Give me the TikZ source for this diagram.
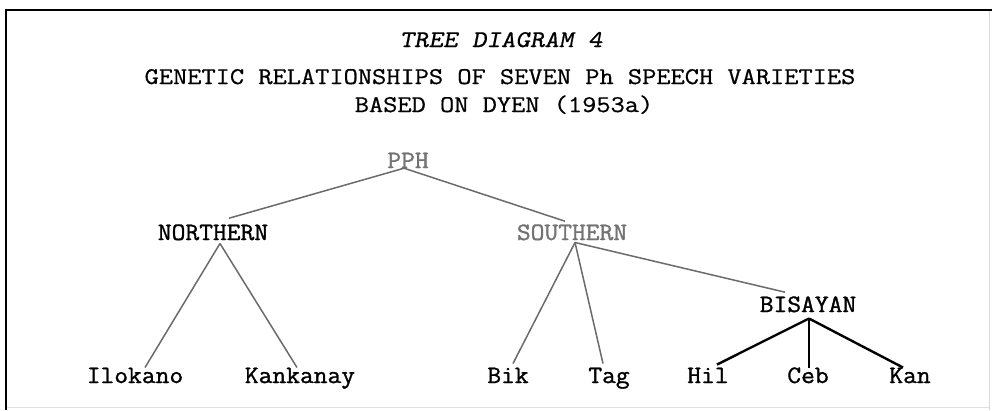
\documentclass[tikz,border=0pt]{standalone}
\usepackage{fontspec}
\setmonofont{Latin Modern Mono}
\newfontfamily\treefont[FakeBold=1.2]{Latin Modern Mono}
\newfontfamily\titlefont[FakeBold=0.6]{Latin Modern Mono}
\newfontfamily\titleitfont[FakeBold=0.6]{Latin Modern Mono Slanted}
\begin{document}
\begin{tikzpicture}[x=1pt,y=-1pt,
  lbl/.style={inner sep=0pt,anchor=base,font=\treefont\fontsize{25}{25}\selectfont,xscale=1.07},
  ttl/.style={inner sep=0pt,anchor=base,font=\titlefont\fontsize{24}{24}\selectfont,xscale=1.15},
  faded/.style={text=black!55},
  grayline/.style={draw=black!58,line width=1.5pt},
  blackline/.style={draw=black,line width=2.4pt},
  thinline/.style={draw=black,line width=1.3pt}]
\useasboundingbox (0,0) rectangle (992,410);
\fill[white] (0,0) rectangle (992,410);
% frame
\draw[black!15,line width=1pt] (989,10) -- (989,410);
\draw[black!12,line width=1pt] (6,407) -- (989,407);
\draw[black,line width=2pt] (5,10) -- (992,10);
\draw[black,line width=2.6pt] (6,9) -- (6,410);
% titles
\node[ttl,font=\titleitfont\fontsize{24}{24}\selectfont] (t1) at (501,47) {TREE DIAGRAM 4};
\node[ttl] (t2) at (500,84) {GENETIC RELATIONSHIPS OF SEVEN Ph SPEECH VARIETIES};
\node[ttl] (t3) at (504,112) {BASED ON DYEN (1953a)};
% tree nodes
\node[lbl,faded] (pph) at (408,168) {PPH};
\node[lbl] (nor) at (213,240) {NORTHERN};
\node[lbl,faded] (sou) at (572,240) {SOUTHERN};
\node[lbl] (bis) at (808,312) {BISAYAN};
\node[lbl] (ilo) at (135,383) {Ilokano};
\node[lbl] (kky) at (300,383) {Kankanay};
\node[lbl] (bik) at (508,383) {Bik};
\node[lbl] (tag) at (609,383) {Tag};
\node[lbl] (hil) at (708,383) {Hil};
\node[lbl] (ceb) at (808,383) {Ceb};
\node[lbl] (kan) at (910,383) {Kan};
% connectors
\draw[grayline] ([xshift=-4pt]pph.south) -- ([xshift=16pt,yshift=6pt]nor.north);
\draw[grayline] ([xshift=-4pt]pph.south) -- ([xshift=-7pt,yshift=3pt]sou.north);
\draw[grayline] ([xshift=7pt,yshift=-3pt]nor.south) -- ([xshift=10pt]ilo.north);
\draw[grayline] ([xshift=7pt,yshift=-3pt]nor.south) -- ([xshift=-3pt]kky.north);
\draw[grayline] ([xshift=3pt,yshift=-2pt]sou.south) -- ([xshift=5pt,yshift=4pt]bik.north);
\draw[grayline] ([xshift=3pt,yshift=-2pt]sou.south) -- ([xshift=-6pt,yshift=4pt]tag.north);
\draw[grayline] ([xshift=3pt,yshift=-2pt]sou.south) -- ([xshift=-23pt,yshift=4pt]bis.north);
\draw[blackline] ([xshift=1pt,yshift=-6pt]bis.south) -- ([xshift=9pt,yshift=3pt]hil.north);
\draw[thinline] ([xshift=1pt,yshift=-6pt]bis.south) -- ([xshift=1pt,yshift=-1pt]ceb.north);
\draw[blackline] ([xshift=1pt,yshift=-6pt]bis.south) -- ([xshift=-7pt]kan.north);
\end{tikzpicture}
\end{document}
